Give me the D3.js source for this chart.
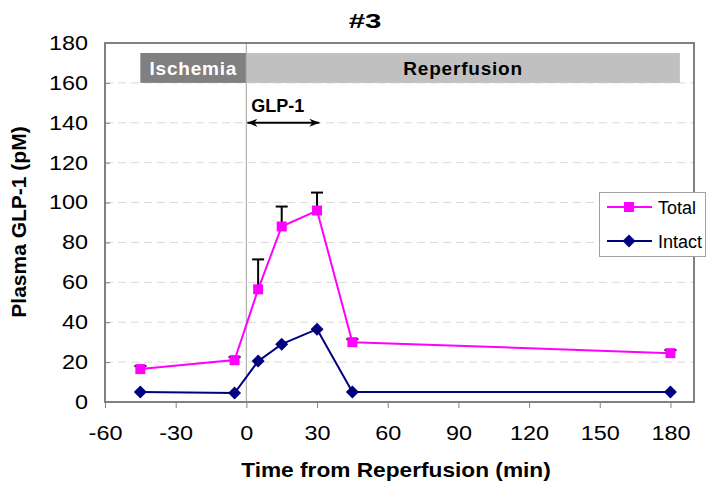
<!DOCTYPE html>
<html><head><meta charset="utf-8">
<script src="https://cdn.jsdelivr.net/npm/d3@7"></script>
<style>body{margin:0;background:#fff}svg{display:block;font-family:"Liberation Sans",Arial,sans-serif}</style>
</head><body>
<svg id="c" width="708" height="484"></svg>
<script>
const times = [-45, -5, 5, 15, 30, 45, 180];
const total = [16.5, 21, 56.5, 88, 96, 30, 24.5];
const totalErr = [1.5, 1.5, 15, 10, 9, 1.5, 1.5];
const intact = [5, 4.5, 20.5, 29, 36.5, 5, 5];
const xTicks = [-60, -30, 0, 30, 60, 90, 120, 150, 180];
const yTicks = [0, 20, 40, 60, 80, 100, 120, 140, 160, 180];
const phases = [{name: "Ischemia", from: -45, to: 0}, {name: "Reperfusion", from: 0, to: 184}];
const phaseBand = [160, 175];
const glpSpan = [0, 31];
const glpLevel = 140;

const svg = d3.select("#c");
const x = d3.scaleLinear().domain([-60, 190]).range([105, 694]);
const y = d3.scaleLinear().domain([0, 180]).range([402, 43]);

function stretch(sel, f) {
  sel.each(function() {
    const w = this.getComputedTextLength();
    d3.select(this).attr("textLength", w * f).attr("lengthAdjust", "spacingAndGlyphs");
  });
}

const defs = svg.append("defs");
defs.append("marker").attr("id","ah").attr("viewBox","0 0 10 10").attr("refX",10).attr("refY",5)
  .attr("markerWidth",5).attr("markerHeight",5).attr("orient","auto-start-reverse").attr("markerUnits","strokeWidth")
  .append("path").attr("d","M0,1 L10,5 L0,9 L3,5 Z").attr("fill","#000");

// gridlines
svg.append("g").selectAll("line").data(yTicks.filter(d => d > 0 && d < 180)).join("line")
  .attr("x1", x(-60)).attr("x2", x(190)).attr("y1", d => y(d)).attr("y2", d => y(d))
  .attr("stroke", "#d9d9d9").attr("stroke-width", 1).attr("stroke-dasharray", "8,5");

// phase bars
const pg = svg.append("g");
pg.selectAll("rect").data(phases).join("rect")
  .attr("x", d => x(d.from)).attr("width", d => x(d.to) - x(d.from))
  .attr("y", y(phaseBand[1])).attr("height", y(phaseBand[0]) - y(phaseBand[1]))
  .attr("fill", (d, i) => i === 0 ? "#808080" : "#c0c0c0");
pg.selectAll("text").data(phases).join("text")
  .attr("x", d => (x(d.from) + x(d.to)) / 2).attr("y", y((phaseBand[0] + phaseBand[1]) / 2) + 7)
  .attr("text-anchor", "middle").attr("font-weight", "bold").attr("font-size", 19)
  .attr("letter-spacing", 0.8)
  .attr("fill", (d, i) => i === 0 ? "#fff" : "#000").text(d => d.name);

// vertical line at 0
svg.append("line").attr("x1", x(0)).attr("x2", x(0)).attr("y1", y(180)).attr("y2", y(0))
  .attr("stroke", "#b0b0b0").attr("stroke-width", 1.2);

// GLP-1 arrow
svg.append("line").attr("x1", x(glpSpan[0]) + 1).attr("x2", x(glpSpan[1]))
  .attr("y1", y(glpLevel)).attr("y2", y(glpLevel)).attr("stroke", "#000").attr("stroke-width", 2)
  .attr("marker-start", "url(#ah)").attr("marker-end", "url(#ah)");
svg.append("text").attr("x", x(glpSpan[0]) + 5).attr("y", y(glpLevel) - 11)
  .attr("font-weight", "bold").attr("font-size", 18).text("GLP-1");

// axes
const xAxis = svg.append("g").attr("transform", `translate(0,${y(0)})`)
  .call(d3.axisBottom(x).tickValues(xTicks).tickSize(6).tickPadding(18).tickFormat(d => String(d)));
xAxis.select(".domain").remove();
xAxis.selectAll("line").attr("stroke", "#808080");
xAxis.selectAll("text").attr("font-size", 20).attr("fill", "#000").attr("font-family", "Liberation Sans, Arial, sans-serif");
stretch(xAxis.selectAll("text"), 1.17);

const yAxis = svg.append("g").attr("transform", `translate(${x(-60)},0)`)
  .call(d3.axisLeft(y).tickValues(yTicks).tickSize(-5).tickPadding(17).tickFormat(d => String(d)));
yAxis.select(".domain").remove();
yAxis.selectAll("line").attr("stroke", "#808080");
yAxis.selectAll("text").attr("font-size", 20).attr("fill", "#000").attr("font-family", "Liberation Sans, Arial, sans-serif");
stretch(yAxis.selectAll("text"), 1.17);

// plot border
svg.append("rect").attr("x", x(-60)).attr("y", y(180)).attr("width", x(190) - x(-60)).attr("height", y(0) - y(180))
  .attr("fill", "none").attr("stroke", "#808080").attr("stroke-width", 2);

// error bars (upper only)
const eg = svg.append("g").attr("stroke", "#000").attr("stroke-width", 2);
times.forEach((t, i) => {
  const yt = y(total[i] + totalErr[i]);
  eg.append("line").attr("x1", x(t)).attr("x2", x(t)).attr("y1", y(total[i])).attr("y2", yt);
  eg.append("line").attr("x1", x(t) - 6).attr("x2", x(t) + 6).attr("y1", yt).attr("y2", yt);
});

// lines
const line = d3.line().x(d => x(d[0])).y(d => y(d[1]));
svg.append("path").datum(times.map((t, i) => [t, total[i]])).attr("d", line)
  .attr("fill", "none").attr("stroke", "#ff00ff").attr("stroke-width", 2);
svg.append("path").datum(times.map((t, i) => [t, intact[i]])).attr("d", line)
  .attr("fill", "none").attr("stroke", "#000080").attr("stroke-width", 2);

// markers
svg.append("g").selectAll("rect").data(times).join("rect")
  .attr("x", (d) => x(d) - 5).attr("y", (d, i) => y(total[i]) - 5).attr("width", 10).attr("height", 10)
  .attr("fill", "#ff00ff");
const diamond = "M0,-6.5 L6.5,0 L0,6.5 L-6.5,0 Z";
svg.append("g").selectAll("path").data(times).join("path")
  .attr("transform", (d, i) => `translate(${x(d)},${y(intact[i])})`).attr("d", diamond)
  .attr("fill", "#000080");

// legend
const lg = svg.append("g");
lg.append("rect").attr("x", 599.5).attr("y", 192.5).attr("width", 106).attr("height", 64)
  .attr("fill", "#fff").attr("stroke", "#a0a0a0").attr("stroke-width", 1);
const leg = [{name: "Total", color: "#ff00ff", shape: "sq"}, {name: "Intact", color: "#000080", shape: "dia"}];
leg.forEach((d, i) => {
  const ly = 207 + i * 34;
  lg.append("line").attr("x1", 607).attr("x2", 652).attr("y1", ly).attr("y2", ly)
    .attr("stroke", d.color).attr("stroke-width", 2);
  if (d.shape === "sq") lg.append("rect").attr("x", 624).attr("y", ly - 5).attr("width", 10).attr("height", 10).attr("fill", d.color);
  else lg.append("path").attr("transform", `translate(629,${ly})`).attr("d", diamond).attr("fill", d.color);
  lg.append("text").attr("x", 658).attr("y", ly + 7).attr("font-size", 18).text(d.name);
});

// titles
const t1 = svg.append("text").attr("x", 365).attr("y", 28).attr("text-anchor", "middle")
  .attr("font-weight", "bold").attr("font-size", 21).text("#3");
stretch(t1, 1.4);
const t2 = svg.append("text").attr("x", 396).attr("y", 477).attr("text-anchor", "middle")
  .attr("font-weight", "bold").attr("font-size", 21).text("Time from Reperfusion (min)");
stretch(t2, 1.08);
svg.append("text").attr("transform", "translate(26,222) rotate(-90)").attr("text-anchor", "middle")
  .attr("font-weight", "bold").attr("font-size", 21).text("Plasma GLP-1 (pM)");
</script>
</body></html>
